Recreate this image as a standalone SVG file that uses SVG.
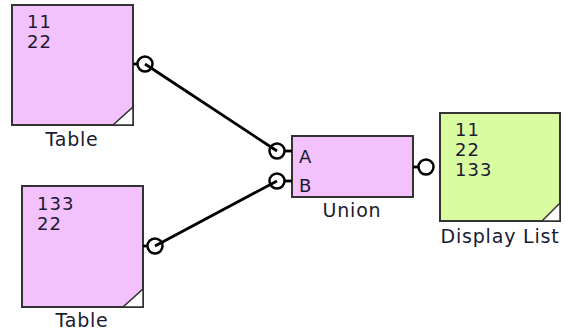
<svg xmlns="http://www.w3.org/2000/svg" width="565" height="335" viewBox="0 0 565 335">
<style>
.box{stroke:#333;stroke-width:2}
.pink{fill:#f3c1fb}
.green{fill:#dafca0}
.corner{fill:#fff;stroke:#333;stroke-width:1.5}
.port{fill:none;stroke:#000;stroke-width:2.5}
.wire{stroke:#000;stroke-width:2.8;fill:none}
.val{font-family:"DejaVu Sans",Verdana,sans-serif;font-size:18px;letter-spacing:1px;fill:#1a1a33}
.lbl{font-family:"DejaVu Sans",Verdana,sans-serif;font-size:19px;letter-spacing:0.8px;fill:#1a1a33;text-anchor:middle}
</style>
<rect width="565" height="335" fill="#fff"/>
<g id="connectors">
<line class="wire" x1="145" y1="64" x2="277" y2="151"/>
<line class="wire" x1="155" y1="246" x2="277" y2="181"/>
</g>
<g id="table1">
<rect class="box pink" x="12" y="5" width="121" height="120"/>
<polygon class="corner" points="113,125 133,125 133,107"/>
<text class="val" x="27" y="28">11</text>
<text class="val" x="27" y="48">22</text>
<text class="lbl" x="72" y="146">Table</text>
<line class="wire" x1="133" y1="64" x2="137" y2="64"/>
<circle class="port" cx="145" cy="64" r="7.5"/>
</g>
<g id="table2">
<rect class="box pink" x="22" y="186" width="121" height="121"/>
<polygon class="corner" points="123,307 143,307 143,289"/>
<text class="val" x="37" y="210">133</text>
<text class="val" x="37" y="230">22</text>
<text class="lbl" x="82" y="327">Table</text>
<line class="wire" x1="143" y1="246" x2="147" y2="246"/>
<circle class="port" cx="155" cy="246" r="7.5"/>
</g>
<g id="union">
<rect class="box pink" x="292" y="136" width="121" height="61"/>
<text class="val" x="299" y="163">A</text>
<text class="val" x="299" y="192">B</text>
<text class="lbl" x="352" y="217">Union</text>
<circle class="port" cx="277" cy="151" r="7.5"/>
<circle class="port" cx="277" cy="181" r="7.5"/>
<line class="wire" x1="284" y1="151" x2="292" y2="151"/>
<line class="wire" x1="284" y1="181" x2="292" y2="181"/>
<circle class="port" cx="426" cy="167" r="7.5"/>
<line class="wire" x1="413" y1="167" x2="418" y2="167"/>
</g>
<g id="display">
<rect class="box green" x="440" y="113" width="120" height="108"/>
<polygon class="corner" points="542,221 560,221 560,203"/>
<text class="val" x="455" y="136">11</text>
<text class="val" x="455" y="156">22</text>
<text class="val" x="455" y="176">133</text>
<text class="lbl" x="500" y="243">Display List</text>
</g>
</svg>
